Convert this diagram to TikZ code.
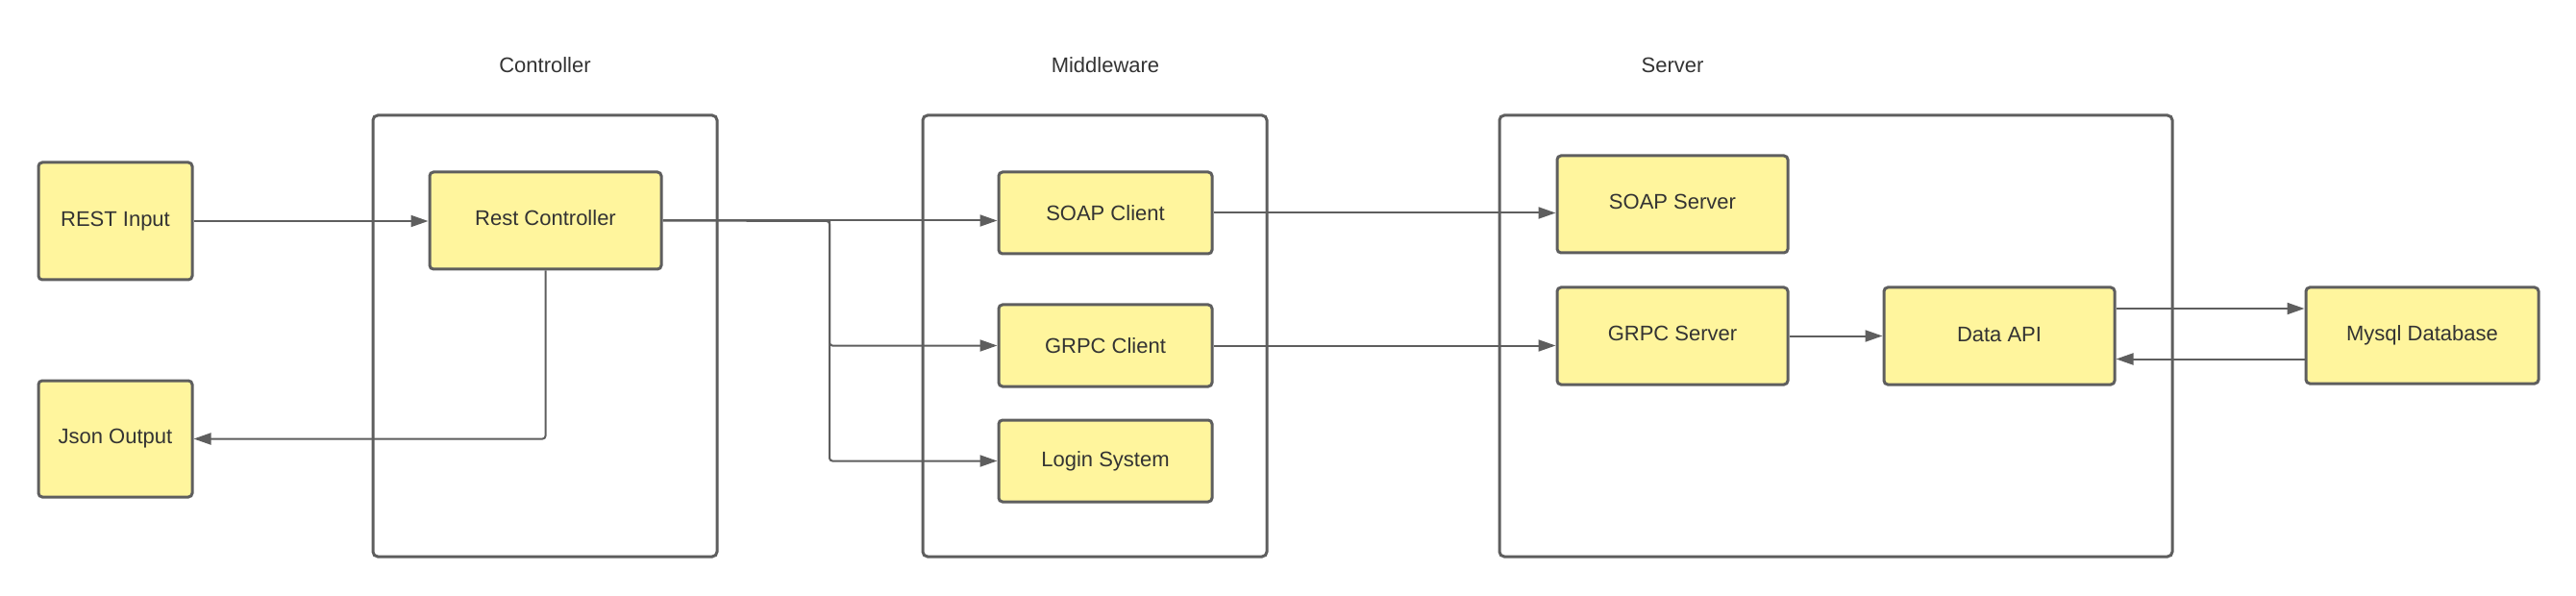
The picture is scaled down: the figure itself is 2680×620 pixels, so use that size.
\documentclass[tikz,border=0pt]{standalone}
\usepackage{fontspec}
\setmainfont{Liberation Sans}
\usetikzlibrary{arrows.meta,calc}
\definecolor{edge}{RGB}{94,94,94}
\definecolor{boxfill}{RGB}{255,245,157}
\definecolor{txt}{RGB}{51,51,51}
\tikzset{
  box/.style={draw=edge, line width=3pt, fill=boxfill, rounded corners=4pt, inner sep=0pt,
    text=txt, font=\fontsize{22}{26}\selectfont, align=center},
  frame/.style={draw=edge, line width=3pt, rounded corners=5pt},
  header/.style={text=txt, font=\fontsize{22}{26}\selectfont},
  conn/.style={draw=edge, line width=2pt, -{Triangle[length=18pt,width=12pt]}, rounded corners=3pt},
}
\begin{document}
\begin{tikzpicture}[x=1pt,y=-1pt]
\useasboundingbox (0,0) rectangle (2680,620);
% frames
\draw[frame] (388,120) rectangle (746,579);
\draw[frame] (960,120) rectangle (1318,579);
\draw[frame] (1560,120) rectangle (2260,579);
\node[header] (hc) at (567,68) {Controller};
\node[header] (hm) at (1150,68) {Middleware};
\node[header] (hs) at (1740,68) {Server};
% boxes
\node[box, minimum width=160pt, minimum height=122pt] (ri) at (120,230) {REST Input};
\node[box, minimum width=160pt, minimum height=121pt] (jo) at (120,456.5) {Json Output};
\node[box, minimum width=241pt, minimum height=101pt] (rc) at (567.5,229.5) {\raisebox{6pt}{Rest Controller}};
\node[box, minimum width=222pt, minimum height=85pt] (sc) at (1150,221.5) {SOAP Client};
\node[box, minimum width=222pt, minimum height=85pt] (gc) at (1150,359.5) {GRPC Client};
\node[box, minimum width=222pt, minimum height=85pt] (ls) at (1150,479.5) {Login System};
\node[box, minimum width=240pt, minimum height=101pt] (ss) at (1740,212.5) {\raisebox{6pt}{SOAP Server}};
\node[box, minimum width=240pt, minimum height=101pt] (gs) at (1740,349.5) {\raisebox{6pt}{GRPC Server}};
\node[box, minimum width=240pt, minimum height=101pt] (da) at (2080,349.5) {\raisebox{4pt}{Data API}};
\node[box, minimum width=242pt, minimum height=100pt] (my) at (2520,349) {\raisebox{4pt}{Mysql Database}};
% connectors
\coordinate (br) at (863,230);
\draw[conn] (ri.east) -- (ri.east -| rc.west);
\draw[conn] (rc.east) -- (rc.east -| sc.west);
\draw[conn] (rc.east) -- (br) |- (gc.west);
\draw[conn] (br) |- (ls.west);
\draw[conn] (rc.south) |- (jo.east);
\draw[conn] (sc.east) -- (sc.east -| ss.west);
\draw[conn] (gc.east) -- (gc.east -| gs.west);
\draw[conn] (gs.east) -- (da.west);
\draw[conn] ([yshift=28.5pt]da.east) -- ([yshift=28.5pt]da.east -| my.west);
\draw[conn] ([yshift=-24.5pt]my.west) -- ([yshift=-24.5pt]my.west -| da.east);
\end{tikzpicture}
\end{document}
